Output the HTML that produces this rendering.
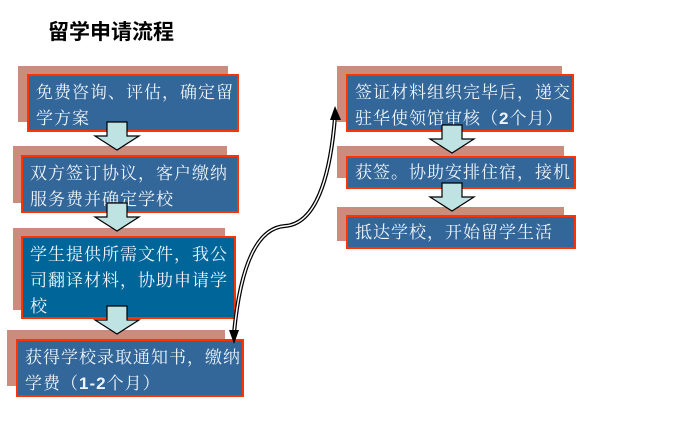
<!DOCTYPE html>
<html><head><meta charset="utf-8"><style>
body{margin:0;width:676px;height:434px;background:#fff;position:relative;overflow:hidden;font-family:"Liberation Sans","Noto Sans CJK SC",sans-serif}
.s{position:absolute;background:#cd8b7e}
.f{position:absolute;background:#336699;border:2px solid #ff3300;box-sizing:border-box;color:#eef4fa;font-family:"Liberation Sans","Noto Serif CJK SC",serif;font-size:17px;letter-spacing:1px;line-height:26px;padding:4px 0 0 7px}
.t{position:absolute;left:48px;top:16px;font-size:21px;font-weight:bold;color:#000}
svg{position:absolute;left:0;top:0}
</style></head><body>
<div class="t">留学申请流程</div>
<div class="s" style="left:18px;top:66px;width:210px;height:56px"></div>
<div class="f" style="left:27px;top:74px;width:212px;height:58px">免费咨询、评估，确定留学方案</div>
<div class="s" style="left:13px;top:146px;width:214px;height:57px"></div>
<div class="f" style="left:21px;top:155px;width:218px;height:58px">双方签订协议，客户缴纳服务费并确定学校</div>
<div class="s" style="left:13px;top:228px;width:212px;height:82px"></div>
<div class="f" style="left:21px;top:236px;width:215px;height:83px;background:#006699">学生提供所需文件，我公司翻译材料，协助申请学校</div>
<div class="s" style="left:7px;top:330px;width:218px;height:56px"></div>
<div class="f" style="left:16px;top:339px;width:228px;height:58px">获得学校录取通知书，缴纳学费（<b>1-2</b>个月）</div>
<div class="s" style="left:337px;top:66px;width:225px;height:56px"></div>
<div class="f" style="left:346px;top:74px;width:228px;height:58px">签证材料组织完毕后，递交驻华使领馆审核（<b>2</b>个月）</div>
<div class="s" style="left:337px;top:146px;width:227px;height:32px"></div>
<div class="f" style="left:346px;top:156px;width:230px;height:33px;padding-top:2px">获签。协助安排住宿，接机</div>
<div class="s" style="left:337px;top:207px;width:227px;height:34px"></div>
<div class="f" style="left:346px;top:215px;width:230px;height:34px;padding-top:3px">抵达学校，开始留学生活</div>
<svg width="676" height="434">
<defs><g id="a"><path d="M-10,0 H10 V14 H22 L0,28 L-22,14 H-10 Z" fill="#bfe2e3" stroke="#000" stroke-width="1.2"/></g></defs>
<use href="#a" x="117" y="122"/>
<use href="#a" x="117" y="203"/>
<use href="#a" x="117" y="306"/>
<use href="#a" x="452" y="125"/>
<use href="#a" x="452" y="183"/>
<path d="M234,333 C240,270 255,228 285,226 C315,224 330,180 335,117" fill="none" stroke="#000" stroke-width="4"/>
<path d="M234,333 C240,270 255,228 285,226 C315,224 330,180 335,117" fill="none" stroke="#fff" stroke-width="1.5"/>
<path d="M229,330 L239,330 L234,344 Z" fill="#000"/>
<path d="M330,120 L341,120 L335,106 Z" fill="#000"/>
</svg>
</body></html>
